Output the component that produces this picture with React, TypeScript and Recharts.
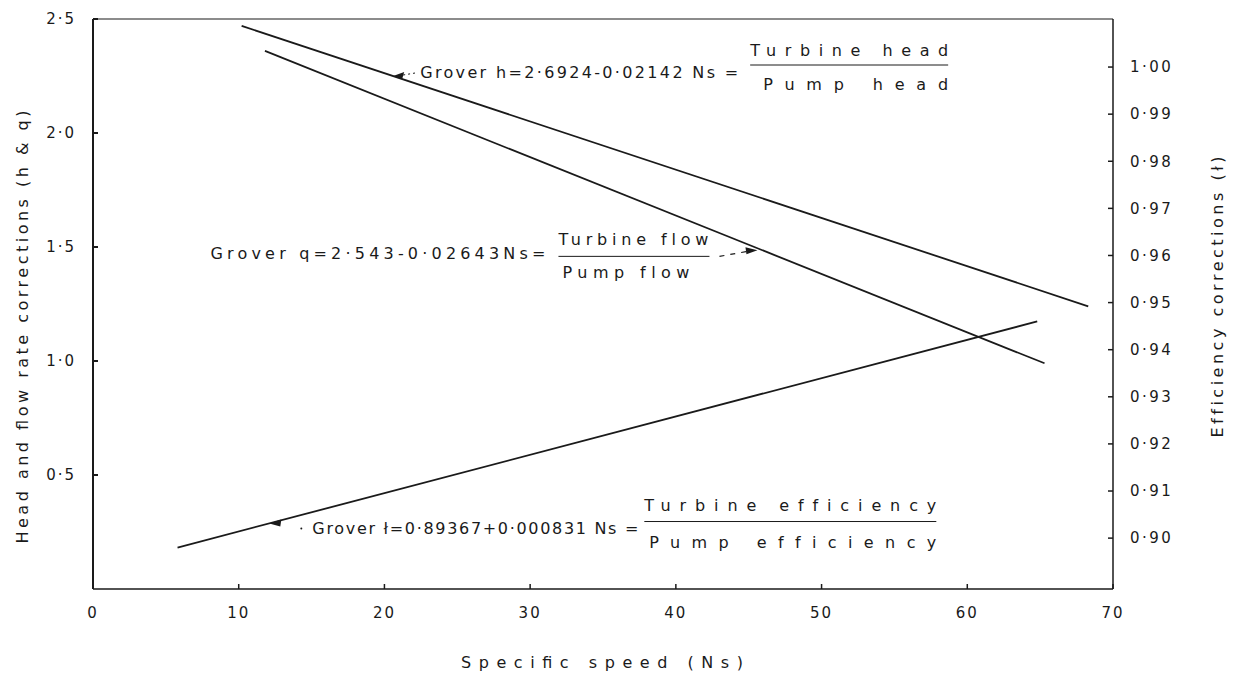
import { LineChart, Line, XAxis, YAxis, ReferenceDot, ReferenceLine } from "recharts";

// axis ticks
const xTicks = [0, 10, 20, 30, 40, 50, 60, 70];
const leftTicks = [0.5, 1.0, 1.5, 2.0, 2.5];
const rightTicks = [0.9, 0.91, 0.92, 0.93, 0.94, 0.95, 0.96, 0.97, 0.98, 0.99, 1.0];

// Grover h (head correction)
const headNs = [10.2, 68.3];
const headVal = [2.47, 1.24];
// Grover q (flow correction)
const flowNs = [11.8, 65.3];
const flowVal = [2.36, 0.99];
// Grover efficiency correction (right axis)
const effNs = [5.8, 64.8];
const effVal = [0.898, 0.946];

// where the annotation arrows touch the lines
const headArrow = { ns: 20.6, v: 2.25 };
const flowArrow = { ns: 45.6, v: 1.494 };
const effArrow = { ns: 12.1, v: 0.9031 };

const toPoints = (xs: number[], ys: number[]) => xs.map((ns, i) => ({ ns, v: ys[i] }));
const headData = toPoints(headNs, headVal);
const flowData = toPoints(flowNs, flowVal);
const effData = toPoints(effNs, effVal);

const FONT = "'DejaVu Sans', sans-serif";
const INK = "#1a1a1a";

const dotFmt = (d: number) => (v: number) => v.toFixed(d).replace(".", "·");

function T({ x, y, w, children, size = 16 }: any) {
  return (
    <text
      x={x}
      y={y}
      textLength={w}
      lengthAdjust="spacing"
      dominantBaseline="central"
      fontFamily={FONT}
      fontSize={size}
      fill={INK}
      style={{ fontVariantLigatures: "none" }}
    >
      {children}
    </text>
  );
}

function HeadNote({ cx, cy }: any) {
  return (
    <g>
      <polygon points={`${cx},${cy} ${cx + 11},${cy - 4} ${cx + 9},${cy + 3}`} fill={INK} />
      <line x1={cx + 10} y1={cy - 1} x2={cx + 22} y2={cy - 3} stroke={INK} strokeWidth={1} strokeDasharray="2 3" />
      <T x={cx + 27} y={cy - 4} w={318}>Grover h=2·6924-0·02142 Ns =</T>
      <T x={cx + 357} y={cy - 26} w={198}>Turbine head</T>
      <line x1={cx + 357} y1={cy - 11} x2={cx + 555} y2={cy - 11} stroke={INK} strokeWidth={1} />
      <T x={cx + 370} y={cy + 8} w={185}>Pump head</T>
    </g>
  );
}

function FlowNote({ cx, cy }: any) {
  return (
    <g>
      <T x={cx - 547} y={cy + 5} w={335}>Grover q=2·543-0·02643Ns=</T>
      <T x={cx - 199} y={cy - 9} w={150}>Turbine flow</T>
      <line x1={cx - 199} y1={cy + 8} x2={cx - 48} y2={cy + 8} stroke={INK} strokeWidth={1} />
      <T x={cx - 195} y={cy + 24} w={127}>Pump flow</T>
      <line x1={cx - 38} y1={cy + 8} x2={cx - 10} y2={cy + 3} stroke={INK} strokeWidth={1.2} strokeDasharray="5 6" />
      <polygon points={`${cx},${cy + 2} ${cx - 12},${cy - 1} ${cx - 11},${cy + 6}`} fill={INK} />
    </g>
  );
}

function EffNote({ cx, cy }: any) {
  return (
    <g>
      <polygon points={`${cx},${cy} ${cx + 12},${cy - 4} ${cx + 11},${cy + 3}`} fill={INK} />
      <circle cx={cx + 32} cy={cy + 5} r={1} fill={INK} />
      <T x={cx + 43} y={cy + 5} w={326}>Grover ł=0·89367+0·000831 Ns =</T>
      <T x={cx + 375} y={cy - 18} w={292}>Turbine efficiency</T>
      <line x1={cx + 375} y1={cy - 2} x2={cx + 667} y2={cy - 2} stroke={INK} strokeWidth={1} />
      <T x={cx + 380} y={cy + 19} w={287}>Pump efficiency</T>
    </g>
  );
}

const tickStyle = { fontFamily: FONT, fontSize: 15, fill: INK, letterSpacing: 2 };

export default function App() {
  return (
    <div style={{ position: "absolute", left: 0, top: 0, background: "#fff" }}>
      <LineChart width={1246} height={674} margin={{ top: 19, right: 0, bottom: 0, left: 0 }}>
        <XAxis
          dataKey="ns"
          type="number"
          domain={[0, 70]}
          ticks={xTicks}
          height={85}
          stroke={INK}
          strokeWidth={1.5}
          tickSize={-5}
          tickMargin={23}
          tick={tickStyle}
          label={{
            content: ({ viewBox }: any) => (
              <text
                x={viewBox.x + viewBox.width / 2 - 1}
                y={viewBox.y + 73}
                textAnchor="middle"
                dominantBaseline="central"
                textLength={282}
                lengthAdjust="spacing"
                fontFamily={FONT}
                fontSize={16}
                fill={INK}
              >
                Specific  speed  (Ns)
              </text>
            ),
          }}
        />
        <YAxis
          yAxisId="left"
          orientation="left"
          width={93}
          domain={[0, 2.5]}
          ticks={leftTicks}
          tickFormatter={dotFmt(1)}
          stroke={INK}
          strokeWidth={2}
          tickSize={-5}
          tickMargin={22}
          tick={tickStyle}
          label={{
            content: ({ viewBox }: any) => {
              const cx = viewBox.x + 22;
              const cy = viewBox.y + viewBox.height / 2 + 23;
              return (
                <text
                  x={cx}
                  y={cy}
                  transform={`rotate(-90, ${cx}, ${cy})`}
                  textAnchor="middle"
                  dominantBaseline="central"
                  textLength={433}
                  lengthAdjust="spacing"
                  fontFamily={FONT}
                  fontSize={16}
                  fill={INK}
                >
                  Head and flow rate corrections (h &amp; q)
                </text>
              );
            },
          }}
        />
        <YAxis
          yAxisId="right"
          orientation="right"
          width={133}
          domain={[0.8892, 1.0102]}
          allowDataOverflow
          ticks={rightTicks}
          tickFormatter={dotFmt(2)}
          stroke={INK}
          strokeWidth={1.5}
          tickSize={-5}
          tickMargin={22}
          tick={{ ...tickStyle, letterSpacing: 2.5 }}
          label={{
            content: ({ viewBox }: any) => {
              const cx = viewBox.x + 104;
              const cy = viewBox.y + viewBox.height / 2 - 7;
              return (
                <text
                  x={cx}
                  y={cy}
                  transform={`rotate(-90, ${cx}, ${cy})`}
                  textAnchor="middle"
                  dominantBaseline="central"
                  textLength={281}
                  lengthAdjust="spacing"
                  fontFamily={FONT}
                  fontSize={16}
                  fill={INK}
                  style={{ fontVariantLigatures: "none" }}
                >
                  Efficiency corrections (ł)
                </text>
              );
            },
          }}
        />
        <ReferenceLine yAxisId="left" y={2.5} stroke={INK} strokeWidth={1.2} />
        <Line yAxisId="left" data={headData} dataKey="v" type="linear" dot={false} stroke={INK} strokeWidth={1.8} isAnimationActive={false} />
        <Line yAxisId="left" data={flowData} dataKey="v" type="linear" dot={false} stroke={INK} strokeWidth={1.8} isAnimationActive={false} />
        <Line yAxisId="right" data={effData} dataKey="v" type="linear" dot={false} stroke={INK} strokeWidth={1.8} isAnimationActive={false} />
        <ReferenceDot yAxisId="left" x={headArrow.ns} y={headArrow.v} r={0} shape={(p: any) => <HeadNote {...p} />} />
        <ReferenceDot yAxisId="left" x={flowArrow.ns} y={flowArrow.v} r={0} shape={(p: any) => <FlowNote {...p} />} />
        <ReferenceDot yAxisId="right" x={effArrow.ns} y={effArrow.v} r={0} shape={(p: any) => <EffNote {...p} />} />
      </LineChart>
    </div>
  );
}
